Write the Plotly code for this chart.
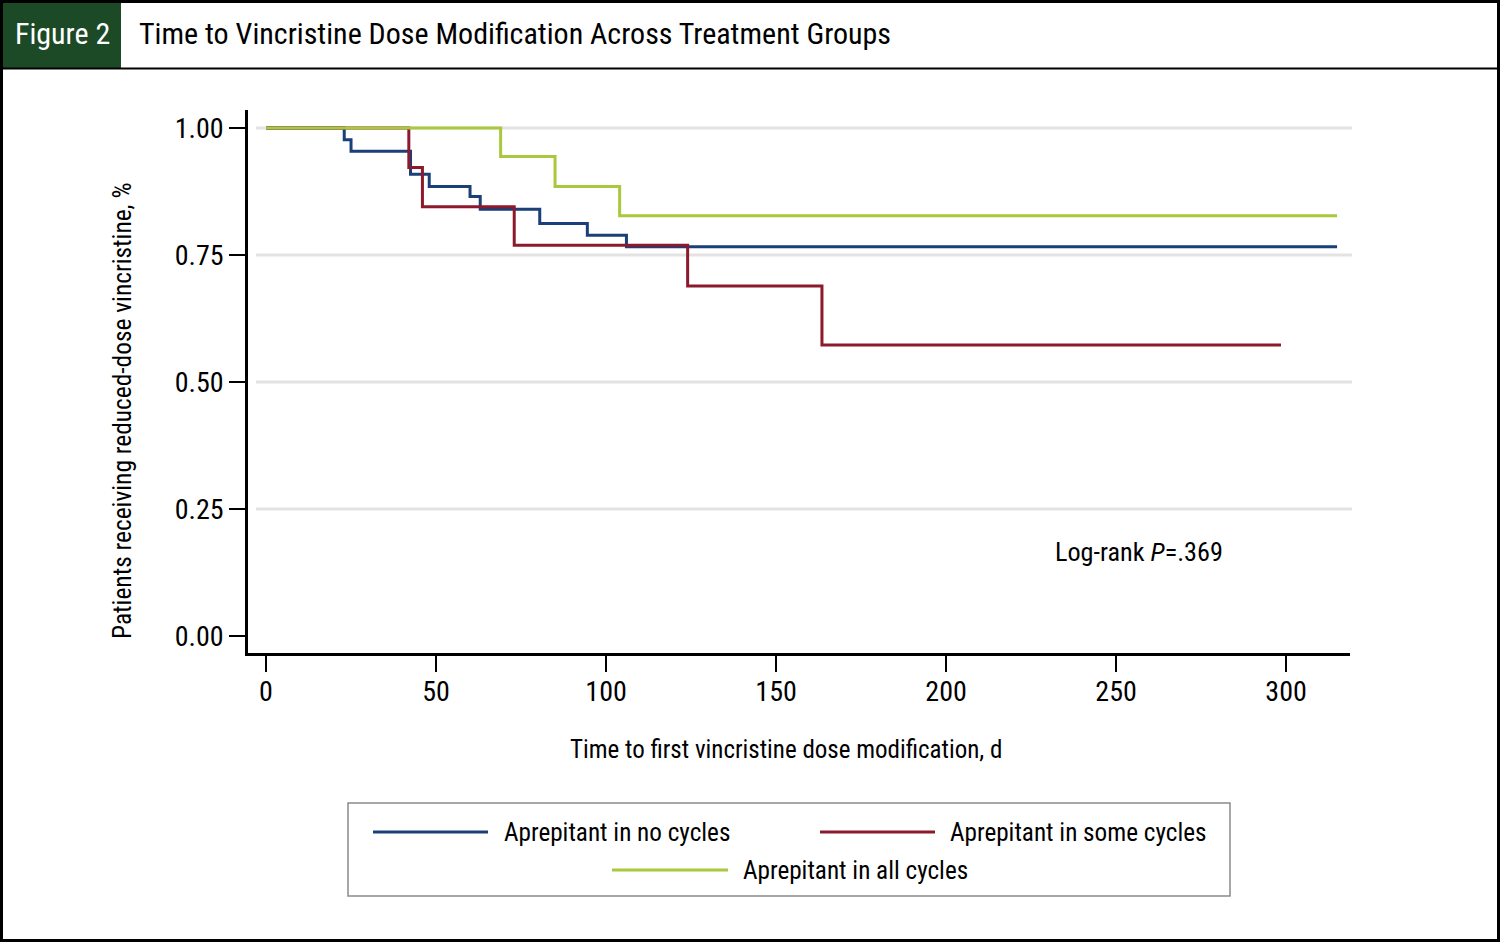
import plotly.graph_objects as go

# ---- data ----
no_t = [0, 23, 25, 42.5, 48, 60, 63, 80.5, 94.5, 106, 315]
no_s = [1.0, 0.977, 0.954, 0.909, 0.885, 0.865, 0.840, 0.812, 0.789, 0.766, 0.766]

some_t = [0, 42, 46, 73, 124, 163.5, 298.5]
some_s = [1.0, 0.922, 0.845, 0.769, 0.689, 0.573, 0.573]

all_t = [0, 69, 85, 104, 315]
all_s = [1.0, 0.944, 0.885, 0.827, 0.827]

series_names = ["Aprepitant in no cycles", "Aprepitant in some cycles", "Aprepitant in all cycles"]
colors = ["#1b3f78", "#8c1a2c", "#a9c83d"]

x_ticks = [0, 50, 100, 150, 200, 250, 300]
y_ticks = [0.0, 0.25, 0.50, 0.75, 1.00]
y_grid = [0.25, 0.50, 0.75, 1.00]

W, H = 1500, 942
FONT = "Roboto Condensed, DejaVu Sans Condensed, sans-serif"


def px(x):
    return x / W


def py(y):
    return 1 - y / H


fig = go.Figure()
for t, s, name, c in [(no_t, no_s, series_names[0], colors[0]),
                      (some_t, some_s, series_names[1], colors[1]),
                      (all_t, all_s, series_names[2], colors[2])]:
    fig.add_trace(go.Scatter(x=t, y=s, mode="lines", line=dict(shape="hv", color=c, width=3),
                             name=name, showlegend=False, hoverinfo="skip"))

shapes = []
# gridlines
for g in y_grid:
    shapes.append(dict(type="line", xref="paper", yref="y", x0=px(256), x1=px(1352), y0=g, y1=g,
                       line=dict(color="#e3e3e3", width=3), layer="below"))
# header
shapes.append(dict(type="rect", xref="paper", yref="paper", x0=0, x1=px(121), y0=py(68), y1=1,
                   fillcolor="#1d4a26", line=dict(width=0), layer="below"))
shapes.append(dict(type="line", xref="paper", yref="paper", x0=0, x1=1, y0=py(68.5), y1=py(68.5),
                   line=dict(color="black", width=2)))
# outer frame
shapes.append(dict(type="rect", xref="paper", yref="paper", x0=px(1.5), x1=px(1498.5), y0=py(940.5), y1=py(1.5),
                   line=dict(color="black", width=3)))
# legend box
shapes.append(dict(type="rect", xref="paper", yref="paper", x0=px(348), x1=px(1230), y0=py(896), y1=py(803),
                   line=dict(color="#8a8a8a", width=1.5)))
leg_items = [(373, 488, 832, 502, 0), (820, 935, 832, 948, 1), (612, 728, 870, 741, 2)]
annotations = []
for x0, x1, yy, tx, i in leg_items:
    shapes.append(dict(type="line", xref="paper", yref="paper", x0=px(x0), x1=px(x1), y0=py(yy), y1=py(yy),
                       line=dict(color=colors[i], width=3)))
    annotations.append(dict(x=px(tx), y=py(yy), xref="paper", yref="paper", text=series_names[i],
                            showarrow=False, xanchor="left", yanchor="middle",
                            font=dict(family=FONT, size=25.2, color="black")))

annotations += [
    dict(x=px(62), y=py(34), xref="paper", yref="paper", text="Figure 2", showarrow=False,
         xanchor="center", yanchor="middle", font=dict(family=FONT, size=30, color="white")),
    dict(x=px(137), y=py(34), xref="paper", yref="paper",
         text="Time to Vincristine Dose Modification Across Treatment Groups", showarrow=False,
         xanchor="left", yanchor="middle", font=dict(family=FONT, size=30, color="black")),
    dict(x=px(122), y=py(410), xref="paper", yref="paper",
         text="Patients receiving reduced-dose vincristine, %", showarrow=False, textangle=-90,
         xanchor="center", yanchor="middle", font=dict(family=FONT, size=25.4, color="black")),
    dict(x=px(786), y=py(749), xref="paper", yref="paper",
         text="Time to first vincristine dose modification, d", showarrow=False,
         xanchor="center", yanchor="middle", font=dict(family=FONT, size=25, color="black")),
    dict(x=px(1053), y=py(552), xref="paper", yref="paper",
         text="Log-rank <i>P</i>=.369", showarrow=False,
         xanchor="left", yanchor="middle", font=dict(family=FONT, size=26.2, color="black")),
]

fig.update_layout(
    width=W, height=H,
    margin=dict(l=0, r=0, t=0, b=0),
    paper_bgcolor="white", plot_bgcolor="white",
    shapes=shapes, annotations=annotations,
    showlegend=False,
    xaxis=dict(domain=[px(248), px(1350)], range=[-5.3, 318.8], tickvals=x_ticks,
               ticks="outside", ticklen=16, tickwidth=2, tickcolor="black", ticklabelstandoff=-4,
               showline=True, linecolor="black", linewidth=2.5, showgrid=False, zeroline=False,
               tickfont=dict(family=FONT, size=28, color="black")),
    yaxis=dict(domain=[py(653), py(110)], range=[-0.0335, 1.0354], tickvals=y_ticks,
               tickformat=".2f", ticks="outside", ticklen=16, tickwidth=2, tickcolor="black",
               showline=True, linecolor="black", linewidth=2.5, showgrid=False, zeroline=False,
               tickfont=dict(family=FONT, size=28, color="black")),
)

fig.write_html("out.html", config={"displayModeBar": False},
               post_script="document.body.style.margin='0';document.body.style.padding='0';")
